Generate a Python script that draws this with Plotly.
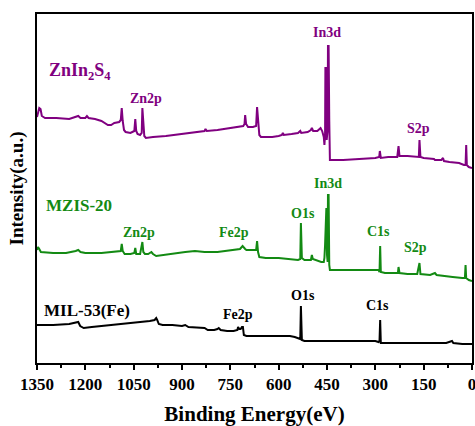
import plotly.graph_objects as go

# ---- data (binding energy in eV, intensity in arbitrary units, stacked) ----
energy_zis = [1350,1346,1343,1339,1335,1325,1290,1250,1230,1222,1215,1200,1195,1190,1170,1150,1130,1120,1110,1095,1090,1087,1084,1080,1075,1060,1048,1045,1042,1038,1030,1025,1023,1020,1017,1012,990,950,900,860,830,827,823,790,750,720,710,706,704,701,695,680,670,667,664,660,655,620,600,590,587,584,560,540,533,530,510,500,497,493,480,470,465,460,458,456,455,453,451,448,447,445,443,441,435,400,350,300,288,286,283,260,240,232,228,225,200,170,165,163,160,150,130,118,115,95,90,87,70,40,25,20,18,16,10,0]
intensity_zis = [246,250,255,254,247,245,245,244,246,247,245,245,247,245,244,242,238,238,240,241,243,255,242,233,231,230,232,244,232,229,228,230,255,238,227,225,226,227,229,231,232,234,232,233,235,236,237,239,248,239,236,236,237,256,239,228,226,226,227,228,230,228,229,230,232,230,231,233,235,232,232,235,232,226,218,228,295,295,223,233,317,317,243,203,203,203,204,205,206,212,205,206,206,206,217,207,207,206,206,223,206,205,204,204,203,203,205,202,201,200,198,198,218,198,196,195]

energy_mzis = [1350,1347,1343,1338,1300,1260,1230,1222,1215,1200,1150,1110,1090,1087,1084,1078,1060,1048,1045,1042,1030,1023,1020,1015,1005,995,990,980,960,920,890,860,830,790,760,730,720,712,708,704,700,690,670,667,664,660,640,600,560,540,533,531,528,520,500,497,494,480,468,460,458,456,454,452,450,448,447,445,443,441,420,380,320,300,290,287,285,283,270,240,230,228,225,200,170,163,160,130,118,115,110,90,60,30,22,20,18,10,0]
intensity_mzis = [113,116,114,111,110,110,112,113,111,110,110,111,112,119,112,109,109,110,115,109,109,121,111,109,109,111,109,107,108,110,111,112,111,111,112,113,114,117,115,114,113,113,113,122,111,106,105,105,104,103,104,140,105,103,103,108,104,102,101,101,105,118,155,155,108,101,168,168,98,93,93,93,93,93,93,91,117,91,90,90,90,96,90,89,89,100,89,88,89,90,88,87,86,85,85,98,85,83,82]

energy_mil = [1350,1330,1300,1250,1228,1222,1216,1205,1180,1150,1100,1050,1000,985,980,977,972,960,930,900,890,880,850,830,820,800,790,786,780,760,740,728,726,722,718,714,711,708,700,650,600,565,550,540,533,531,528,520,500,450,400,350,310,300,290,287,285,283,270,200,150,100,80,62,58,30,0]
intensity_mil = [38,38,38,39,40,41,37,35,36,37,38,40,42,43,45,43,39,38,38,37,38,36,35,35,33,33,34,35,33,32,32,33,36,34,34,36,36,28,27,27,27,27,26,25,24,57,23,22,22,22,22,22,22,22,21,22,43,20,20,20,20,20,20,22,20,19,19]

series_names = ["ZnIn2S4", "MZIS-20", "MIL-53(Fe)"]
tick_vals = [1350, 1200, 1050, 900, 750, 600, 450, 300, 150, 0]
tick_text = ["1350", "1200", "1050", "900", "750", "600", "450", "300", "150", "0"]

# labels: (text, energy, intensity, colour, size, xanchor)
labels = [
    ("ZnIn<sub>2</sub>S<sub>4</sub>", 1319, 292, "#800080", 18, "left"),
    ("Zn2p", 1012, 265, "#800080", 14, "center"),
    ("In3d", 451, 331, "#800080", 14, "center"),
    ("S2p", 167, 235, "#800080", 14, "center"),
    ("MZIS-20", 1328, 158, "#138a13", 17, "left"),
    ("Zn2p", 1033, 131, "#138a13", 14, "center"),
    ("Fe2p", 739, 131, "#138a13", 14, "center"),
    ("O1s", 524, 150, "#138a13", 14, "center"),
    ("In3d", 447, 180, "#138a13", 14, "center"),
    ("C1s", 289, 132, "#138a13", 14, "center"),
    ("S2p", 174, 116, "#138a13", 14, "center"),
    ("MIL-53(Fe)", 1334, 53, "#000000", 17, "left"),
    ("Fe2p", 726, 49, "#000000", 14, "center"),
    ("O1s", 524, 68, "#000000", 14, "center"),
    ("C1s", 292, 58, "#000000", 14, "center"),
]

FONT = "Liberation Serif"

fig = go.Figure()
for name, e, i, c in [
    (series_names[0], energy_zis, intensity_zis, "#800080"),
    (series_names[1], energy_mzis, intensity_mzis, "#138a13"),
    (series_names[2], energy_mil, intensity_mil, "#000000"),
]:
    fig.add_trace(go.Scatter(x=e, y=i, mode="lines", name=name,
                             line=dict(color=c, width=2), showlegend=False))

for text, e, i, c, s, xa in labels:
    fig.add_annotation(x=e, y=i, text="<b>" + text + "</b>", showarrow=False,
                       xanchor=xa, yanchor="middle",
                       font=dict(family=FONT, size=s, color=c))

fig.update_layout(
    width=475, height=426,
    margin=dict(l=37, r=3, t=14, b=63),
    paper_bgcolor="white", plot_bgcolor="white",
    font=dict(family=FONT, color="black"),
)
fig.update_xaxes(
    range=[1350, 0], tickvals=tick_vals, ticktext=["<b>" + t + "</b>" for t in tick_text],
    ticks="outside", ticklen=5, tickwidth=2, tickcolor="black",
    minor=dict(dtick=75, tick0=0, ticks="outside", ticklen=3, tickwidth=2, tickcolor="black"),
    showline=True, linewidth=2, linecolor="black", mirror=True,
    showgrid=False, zeroline=False, automargin=False, ticklabeloverflow="allow",
    tickfont=dict(family=FONT, size=17, color="black"),
    title=dict(text="<b>Binding Energy(eV)</b>", standoff=16,
               font=dict(family=FONT, size=21, color="black")),
)
fig.update_yaxes(
    range=[0, 349], showticklabels=False, ticks="",
    showline=True, linewidth=2, linecolor="black", mirror=True,
    showgrid=False, zeroline=False, automargin=False,
    title=dict(text="<b>Intensity(a.u.)</b>", standoff=6,
               font=dict(family=FONT, size=19, color="black")),
)
fig.write_html("out.html", config={"displayModeBar": False},
               post_script="document.body.style.margin='0';")
